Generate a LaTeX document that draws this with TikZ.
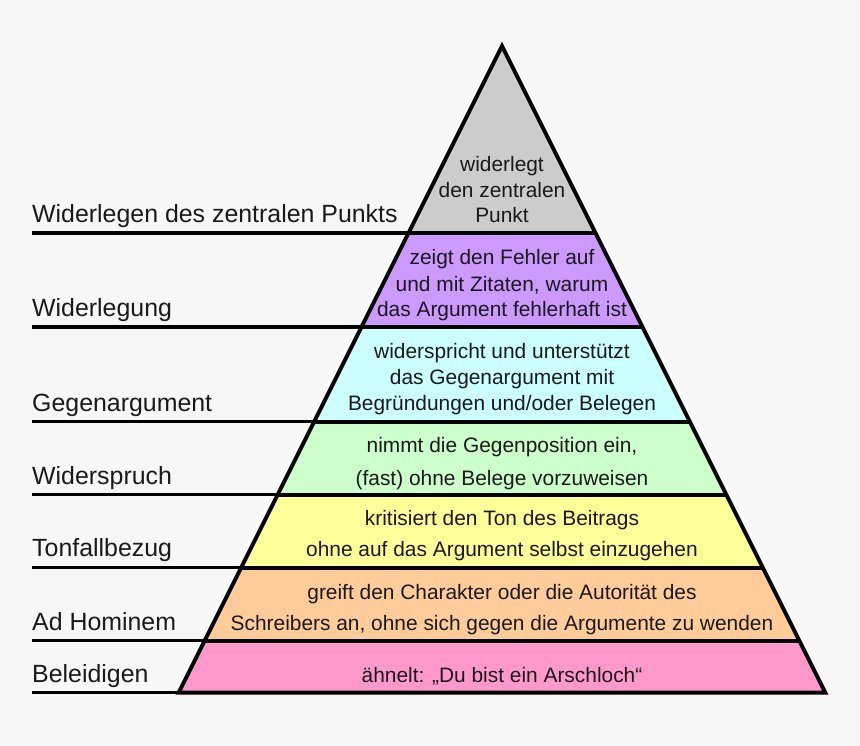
\documentclass[tikz,border=0pt]{standalone}
\usepackage{fontspec}
\setmainfont{Liberation Sans}
\definecolor{bgc}{HTML}{F7F7F7}
\definecolor{txt}{HTML}{1A1A1A}
\definecolor{cgray}{HTML}{CCCCCC}
\definecolor{cpurple}{HTML}{CC99FF}
\definecolor{ccyan}{HTML}{CCFFFF}
\definecolor{cgreen}{HTML}{CCFFCC}
\definecolor{cyellow}{HTML}{FFFF99}
\definecolor{corange}{HTML}{FFCC99}
\definecolor{cpink}{HTML}{FF99CC}
\begin{document}
\begin{tikzpicture}[x=1pt,y=-1pt,
  lab/.style={anchor=base west,inner sep=0pt,text=txt,font=\fontsize{24.9}{29}\selectfont},
  ptxt/.style={anchor=base,inner sep=0pt,text=txt,font=\fontsize{20.9}{25}\selectfont},
  labline/.style={line width=3.4pt,draw=black},
  pyrline/.style={line width=4pt,draw=black,line join=miter}]
\fill[bgc] (0,0) rectangle (860,746);
\useasboundingbox (0,0) rectangle (860,746);
% pyramid corners
\coordinate (A) at (502,46);
\coordinate (L1) at (408.5,233);   \coordinate (R1) at (595.5,233);
\coordinate (L2) at (361.5,327);   \coordinate (R2) at (642.5,327);
\coordinate (L3) at (314.25,421.5);\coordinate (R3) at (689.75,421.5);
\coordinate (L4) at (277.75,494.5);\coordinate (R4) at (726.25,494.5);
\coordinate (L5) at (241.25,567.5);\coordinate (R5) at (762.75,567.5);
\coordinate (L6) at (204.75,640.5);\coordinate (R6) at (799.25,640.5);
\coordinate (L7) at (178.75,692.5);\coordinate (R7) at (825.25,692.5);
% label line starts
\coordinate (s1) at (32,233);
\coordinate (s2) at (32,327);
\coordinate (s3) at (32,421.5);
\coordinate (s4) at (32,494.5);
\coordinate (s5) at (32,567.5);
\coordinate (s6) at (32,640.5);
\coordinate (s7) at (32,692.5);
% fills
\fill[cgray] (A) -- (R1) -- (L1) -- cycle;
\fill[cpurple] (L1) -- (R1) -- (R2) -- (L2) -- cycle;
\fill[ccyan] (L2) -- (R2) -- (R3) -- (L3) -- cycle;
\fill[cgreen] (L3) -- (R3) -- (R4) -- (L4) -- cycle;
\fill[cyellow] (L4) -- (R4) -- (R5) -- (L5) -- cycle;
\fill[corange] (L5) -- (R5) -- (R6) -- (L6) -- cycle;
\fill[cpink] (L6) -- (R6) -- (R7) -- (L7) -- cycle;
% strokes
\draw[pyrline] (L1) -- (R1);
\draw[pyrline] (L2) -- (R2);
\draw[pyrline] (L3) -- (R3);
\draw[pyrline] (L4) -- (R4);
\draw[pyrline] (L5) -- (R5);
\draw[pyrline] (L6) -- (R6);
\draw[labline] (s1) -- (L1);
\draw[labline] (s2) -- (L2);
\draw[labline] (s3) -- (L3);
\draw[labline] (s4) -- (L4);
\draw[labline] (s5) -- (L5);
\draw[labline] (s6) -- (L6);
\draw[labline] (s7) -- (L7);
\draw[pyrline] (A) -- (R7) -- (L7) -- cycle;
% labels
\node[lab] (n1) at (32,223) {Widerlegen des zentralen Punkts};
\node[lab] (n2) at (32,316.7) {Widerlegung};
\node[lab] (n3) at (32,411) {Gegenargument};
\node[lab] (n4) at (32,484) {Widerspruch};
\node[lab] (n5) at (32,556.7) {Tonfallbezug};
\node[lab] (n6) at (32,630.7) {Ad Hominem};
\node[lab] (n7) at (32,682.7) {Beleidigen};
% pyramid texts
\node[ptxt] (g1) at (502,171.7) {widerlegt};
\node[ptxt] (g2) at (502,197.3) {den zentralen};
\node[ptxt] (g3) at (502,222.7) {Punkt};
\node[ptxt] (p1) at (502,265) {zeigt den Fehler auf};
\node[ptxt] (p2) at (502,291) {und mit Zitaten, warum};
\node[ptxt] (p3) at (502,316.5) {das Argument fehlerhaft ist};
\node[ptxt] (c1) at (502,358.3) {widerspricht und unterstützt};
\node[ptxt] (c2) at (502,384.3) {das Gegenargument mit};
\node[ptxt] (c3) at (502,410.7) {Begründungen und/oder Belegen};
\node[ptxt] (e1) at (502,452.7) {nimmt die Gegenposition ein,};
\node[ptxt] (e2) at (502,485) {(fast) ohne Belege vorzuweisen};
\node[ptxt] (y1) at (502,525.7) {kritisiert den Ton des Beitrags};
\node[ptxt] (y2) at (502,556.7) {ohne auf das Argument selbst einzugehen};
\node[ptxt] (o1) at (502,599.3) {greift den Charakter oder die Autorität des};
\node[ptxt] (o2) at (502,630.7) {Schreibers an, ohne sich gegen die Argumente zu wenden};
\node[ptxt] (k1) at (502,682.7) {ähnelt: „Du bist ein Arschloch“};
\end{tikzpicture}
\end{document}
